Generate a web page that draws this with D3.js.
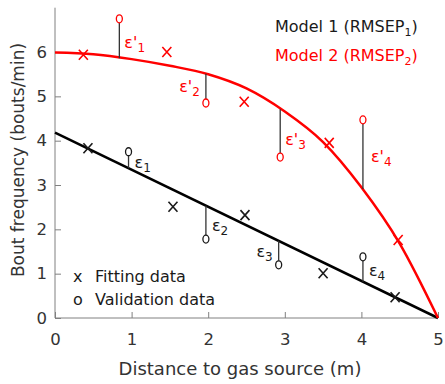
<!DOCTYPE html>
<html>
<head>
<meta charset="utf-8">
<script src="https://cdn.jsdelivr.net/npm/d3@7"></script>
<style>
  body { margin: 0; background: #fff; }
  svg text { font-family: "DejaVu Sans", Verdana, sans-serif; }
</style>
</head>
<body>
<div id="chart"></div>
<script>
// model 1 (straight line)
var lineX = [0, 5];
var lineY = [4.18, 0];
// model 2 (curve)
var curveX = [0, 0.5, 1, 1.5, 2, 2.5, 3, 3.5, 4, 4.5, 5];
var curveY = [5.99, 5.95, 5.84, 5.69, 5.50, 5.18, 4.66, 3.97, 2.95, 1.68, 0];

// fitting data (x markers)
var fit1X = [0.43, 1.54, 2.48, 3.50, 4.44];
var fit1Y = [3.83, 2.51, 2.32, 1.01, 0.47];
var fit2X = [0.37, 1.46, 2.47, 3.58, 4.48];
var fit2Y = [5.94, 6.00, 4.88, 3.95, 1.76];

// validation data (o markers) and model predictions at those points
var val1X = [0.96, 1.97, 2.92, 4.02];
var val1Y = [3.75, 1.78, 1.20, 1.38];
var pred1Y = [3.38, 2.53, 1.74, 0.82];
var val2X = [0.84, 1.97, 2.94, 4.02];
var val2Y = [6.75, 4.85, 3.63, 4.47];
var pred2Y = [5.86, 5.51, 4.71, 2.91];

var xTicks = [0, 1, 2, 3, 4, 5];
var yTicks = [0, 1, 2, 3, 4, 5, 6];

var width = 445, height = 384;
var red = '#ff0000', dark = '#1a1a1a', grey = '#808080';

var svg = d3.select('#chart').append('svg')
  .attr('width', width)
  .attr('height', height);

var x = d3.scaleLinear().domain([0, 5]).range([55, 438]);
var y = d3.scaleLinear().domain([0, 7]).range([318, 7.7]);

//axes
var xAxis = svg.append('g')
  .attr('transform', 'translate(0,' + y(0) + ')')
  .call(d3.axisBottom(x).tickValues(xTicks).tickFormat(d3.format('d'))
    .tickSizeInner(-6).tickSizeOuter(0).tickPadding(15));
var yAxis = svg.append('g')
  .attr('transform', 'translate(' + x(0) + ',0)')
  .call(d3.axisLeft(y).tickValues(yTicks).tickFormat(d3.format('d'))
    .tickSizeInner(-6).tickSizeOuter(0).tickPadding(8));

[xAxis, yAxis].forEach(function(a) {
  a.select('.domain').attr('stroke', grey);
  a.selectAll('.tick line').attr('stroke', grey);
  a.selectAll('.tick text')
    .attr('fill', '#333')
    .style('font-size', '16.5px');
});
yAxis.select('.domain').attr('d', 'M0,' + y(0) + 'V' + y(7));
xAxis.select('.domain').attr('d', 'M' + x(0) + ',0H' + x(5));

svg.append('text')
  .attr('x', 240).attr('y', 375)
  .attr('text-anchor', 'middle')
  .attr('fill', '#333')
  .style('font-size', '18px')
  .text('Distance to gas source (m)');

svg.append('text')
  .attr('transform', 'translate(24,160) rotate(-90)')
  .attr('text-anchor', 'middle')
  .attr('fill', '#333')
  .style('font-size', '17px')
  .text('Bout frequency (bouts/min)');

//models
var line = d3.line()
  .x(function(d) { return x(d[0]); })
  .y(function(d) { return y(d[1]); });

svg.append('path')
  .datum(d3.zip(lineX, lineY))
  .attr('fill', 'none')
  .attr('stroke', '#000')
  .attr('stroke-width', 2.5)
  .attr('d', line);

svg.append('path')
  .datum(d3.zip(curveX, curveY))
  .attr('fill', 'none')
  .attr('stroke', red)
  .attr('stroke-width', 2.5)
  .attr('d', line.curve(d3.curveMonotoneX));

//error segments and labels
var errors = [
  { xs: val1X, ys: val1Y, ps: pred1Y, color: dark, prime: '' },
  { xs: val2X, ys: val2Y, ps: pred2Y, color: red, prime: "'" }
];
// label placement relative to each segment: side (+1 right / -1 left), baseline shift from midpoint
var labelSide = [[1, 1, -1, 1], [1, -1, 1, 1]];
var labelDy = [[8, 8.5, 4, 7], [9.5, 4, 12, 8]];
var labelDx = [[6, 6, 6, 6], [5, 6, 5, 8]];

errors.forEach(function(s, k) {
  s.xs.forEach(function(xv, i) {
    svg.append('line')
      .attr('x1', x(xv)).attr('x2', x(xv))
      .attr('y1', y(s.ys[i])).attr('y2', y(s.ps[i]))
      .attr('stroke', '#333')
      .attr('stroke-width', 1.3);

    var mid = (y(s.ys[i]) + y(s.ps[i])) / 2;
    var side = labelSide[k][i];
    var t = svg.append('text')
      .attr('x', x(xv) + side * labelDx[k][i])
      .attr('y', mid + labelDy[k][i])
      .attr('text-anchor', side > 0 ? 'start' : 'end')
      .attr('fill', s.color)
      .style('font-size', '16px');
    t.append('tspan').text('\u03b5' + s.prime);
    t.append('tspan')
      .attr('dy', 4)
      .style('font-size', '12px')
      .text(i + 1);
  });
});

//markers
function cross(g, xs, ys, color) {
  xs.forEach(function(xv, i) {
    var cx = x(xv), cy = y(ys[i]);
    g.append('path')
      .attr('d', 'M' + (cx - 4.5) + ',' + (cy - 5) + 'L' + (cx + 4.5) + ',' + (cy + 5) +
                 'M' + (cx + 4.5) + ',' + (cy - 5) + 'L' + (cx - 4.5) + ',' + (cy + 5))
      .attr('stroke', color)
      .attr('stroke-width', 1.6)
      .attr('fill', 'none');
  });
}
function ring(g, xs, ys, color) {
  g.selectAll(null)
    .data(d3.zip(xs, ys))
    .enter().append('ellipse')
      .attr('cx', function(d) { return x(d[0]); })
      .attr('cy', function(d) { return y(d[1]); })
      .attr('rx', 3).attr('ry', 4)
      .attr('fill', '#fff')
      .attr('stroke', color)
      .attr('stroke-width', 1.3);
}
var marks = svg.append('g');
cross(marks, fit1X, fit1Y, dark);
cross(marks, fit2X, fit2Y, red);
ring(marks, val1X, val1Y, dark);
ring(marks, val2X, val2Y, red);

//model legend
function modelLabel(yPos, n, color) {
  var t = svg.append('text')
    .attr('x', 275).attr('y', yPos)
    .attr('fill', color)
    .style('font-size', '16px');
  t.append('tspan').text('Model ' + n + ' (RMSEP');
  t.append('tspan').attr('dy', 4).style('font-size', '11px').text(n);
  t.append('tspan').attr('dy', -4).text(')');
}
modelLabel(32, 1, dark);
modelLabel(61, 2, red);

//marker legend
var legend = [['x', 'Fitting data', 282], ['o', 'Validation data', 305]];
legend.forEach(function(l) {
  svg.append('text').attr('x', 73).attr('y', l[2])
    .attr('fill', dark).style('font-size', '16px').text(l[0]);
  svg.append('text').attr('x', 95).attr('y', l[2])
    .attr('fill', dark).style('font-size', '16px').text(l[1]);
});
</script>
</body>
</html>
